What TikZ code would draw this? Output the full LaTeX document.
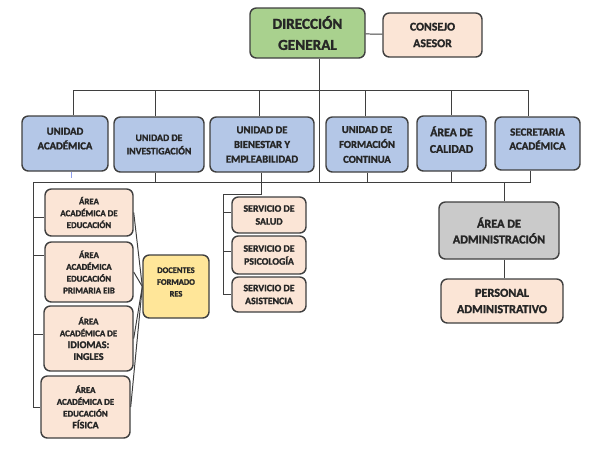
\documentclass[tikz,border=0pt]{standalone}
\usepackage{fontspec}
\setmainfont{Carlito}[BoldFeatures={FakeBold=1.6}]
\definecolor{boxline}{HTML}{3F3F3F}
\definecolor{textdark}{HTML}{262626}
\definecolor{dirgreen}{HTML}{A9D18E}
\definecolor{peach}{HTML}{FBE5D6}
\definecolor{unitblue}{HTML}{B4C7E7}
\definecolor{admgray}{HTML}{CACACA}
\definecolor{docyellow}{HTML}{FFE699}
\newcommand\fs[2]{\fontsize{#1}{#2}\selectfont}
\begin{document}
\begin{tikzpicture}[x=0.025cm, y=-0.025cm,
  box/.style={draw=boxline, line width=1pt, rounded corners=4.5pt, align=center, inner sep=1pt, text=textdark},
  boxsize/.style 2 args={minimum width=#1*0.025cm, minimum height=#2*0.025cm},
  unit/.style={box, fill=unitblue, font=\bfseries\fs{7.6}{10.4}},
  area/.style={box, fill=peach, font=\bfseries\fs{6.3}{8.4}},
  link/.style={draw=boxline, line width=0.7pt}]
  \useasboundingbox (0,0) rectangle (599,449);
  % top
  \node[box, fill=dirgreen, boxsize={115}{50}, font=\bfseries\fs{10.8}{15}] (dg) at (307.5,33) {DIRECCIÓN\\GENERAL};
  \node[box, fill=peach, boxsize={99}{44}, font=\bfseries\fs{8.4}{11.8}] (ca) at (432.5,35) {CONSEJO\\ASESOR};
  % units
  \node[unit, boxsize={86}{55}] (ua) at (65,143.5) {UNIDAD\\ACADÉMICA\\[-3.4pt]};
  \node[unit, boxsize={90}{55}, font=\bfseries\fs{7}{9.5}] (ui) at (159,144.5) {UNIDAD DE\\INVESTIGACIÓN};
  \node[unit, boxsize={104}{55}] (ube) at (262,144.5) {UNIDAD DE\\BIENESTAR Y\\EMPLEABILIDAD};
  \node[unit, boxsize={82}{55}, font=\bfseries\fs{7.5}{10.6}] (ufc) at (367,144.5) {UNIDAD DE\\FORMACIÓN\\CONTINUA};
  \node[unit, boxsize={69}{55}, font=\bfseries\fs{8.4}{11.8}] (ac) at (451.5,143.5) {ÁREA DE\\CALIDAD\\[-6.2pt]};
  \node[unit, boxsize={85}{53}, font=\bfseries\fs{7.8}{9.9}] (sa) at (537.5,143.5) {SECRETARIA\\ACADÉMICA\\[-3.5pt]};
  % academic areas
  \node[area, boxsize={88}{47}] (a1) at (89,212.5) {ÁREA\\ACADÉMICA DE\\EDUCACIÓN};
  \node[area, boxsize={88}{60}] (a2) at (89,272) {ÁREA\\ACADÉMICA\\EDUCACIÓN\\PRIMARIA EIB};
  \node[area, boxsize={89}{65}] (a3) at (88.5,338.5) {ÁREA\\ACADÉMICA DE\\{\fs{7.3}{9}IDIOMAS:}\\{\fs{7.3}{9}INGLES}};
  \node[area, boxsize={89}{62}] (a4) at (85.5,407) {ÁREA\\ACADÉMICA DE\\EDUCACIÓN\\{\fs{7.2}{9}FÍSICA}};
  \node[box, fill=docyellow, boxsize={66}{63}, font=\bfseries\fs{6}{8.4}] (df) at (176,286.5) {DOCENTES\\FORMADO\\RES\\[-2pt]};
  % services
  \node[area, boxsize={74}{36}, font=\bfseries\fs{7}{9.2}] (s1) at (269,215) {SERVICIO DE\\SALUD};
  \node[area, boxsize={74}{38}, font=\bfseries\fs{7}{9.2}] (s2) at (269,255) {SERVICIO DE\\PSICOLOGÍA};
  \node[area, boxsize={74}{35}, font=\bfseries\fs{7}{9.2}] (s3) at (269,294.5) {SERVICIO DE\\ASISTENCIA};
  % administration
  \node[box, fill=admgray, boxsize={120}{57}, font=\bfseries\fs{8.7}{11.2}] (adm) at (499,230.5) {ÁREA DE\\ADMINISTRACIÓN};
  \node[area, boxsize={122}{44}, font=\bfseries\fs{8.7}{11.6}] (pa) at (502,301) {PERSONAL\\ADMINISTRATIVO};

  \coordinate (tl) at (73,90);
  \coordinate (tr) at (528,90);
  \coordinate (bl) at (33,182);
  \coordinate (br) at (530,182);
  \coordinate (sv) at (223,194);

  \draw[link] (dg) -- (ca);
  \draw[link] (dg.south -| 319,0) -- (319,182);
  \draw[link] (ua.north -| tl) -- (tl) -- (tr) -- (sa.north -| tr);
  \foreach \n/\x in {ui/155, ube/259, ufc/365, ac/451}
    \draw[link] (\n.north -| \x,0) -- (\x,90);
  % lower bus
  \draw[link] (sa.south -| br) -- (br) -- (bl) -- (a4.west -| bl) -- (a4.west);
  \foreach \n/\x in {ui/155, ufc/367, ac/451}
    \draw[link] (\n.south -| \x,0) -- (\x,182);
  \draw[unitblue!80!blue, line width=0.7pt] (ua.south -| 71,0) -- (71,178);
  \foreach \n/\y in {a1/217, a2/255, a3/334}
    \draw[link] (33,\y) -- (\n.west |- 33,\y);
  \foreach \n in {a1,a2,a3,a4}
    \draw[link] (\n.east) -- (df.west);
  % services
  \draw[link] (ube.south -| 261,0) -- (261,194) -- (sv) |- (s3.west);
  \foreach \n/\y in {s1/212, s2/251}
    \draw[link] (223,\y) -- (\n.west |- 223,\y);
  % administration
  \draw[link] (504,182) -- (adm.north -| 504,0);
  \draw[link] (adm.south -| 504,0) -- (pa.north -| 504,0);
\end{tikzpicture}
\end{document}
